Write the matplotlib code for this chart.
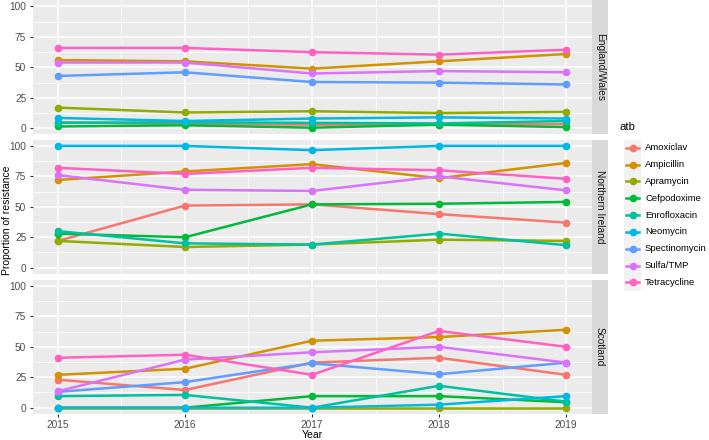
import numpy as np
import matplotlib
matplotlib.use("Agg")
import matplotlib.pyplot as plt
from matplotlib.lines import Line2D
from matplotlib.patches import Rectangle

plt.rcParams['font.family'] = ['Liberation Sans', 'DejaVu Sans']

years = [2015, 2016, 2017, 2018, 2019]
atb = ['Amoxiclav', 'Ampicillin', 'Apramycin', 'Cefpodoxime', 'Enrofloxacin',
       'Neomycin', 'Spectinomycin', 'Sulfa/TMP', 'Tetracycline']
colors = ['#F8766D', '#D39200', '#93AA00', '#00BA38', '#00C19F',
          '#00B9E3', '#619CFF', '#DB72FB', '#FF61C3']
regions = ['England/Wales', 'Northern Ireland', 'Scotland']

# one row per antibiotic, same order as atb
england_wales = [
    [5, 3.5, 3, 3, 3.5],
    [56, 55, 49, 55, 61],
    [17, 13, 14, 12.5, 13.5],
    [1.5, 2.5, 0.5, 3, 1],
    [4.5, 5, 4.5, 4, 6],
    [8.5, 6, 8, 9, 8],
    [43, 46, 38, 37.5, 36],
    [54, 54, 45, 47, 46],
    [66, 66, 62.5, 60.5, 64.5],
]
northern_ireland = [
    [22, 51, 52, 44, 37],
    [72, 79, 85, 73.5, 86],
    [22, 17, 19, 23, 22],
    [28, 25, 52, 52.5, 54],
    [30, 20, 19, 28, 18.5],
    [100, 100, 96.5, 100, 100],
    [np.nan, np.nan, np.nan, np.nan, np.nan],
    [76, 64, 63, 75, 63.5],
    [82, 77, 82, 80, 73],
]
scotland = [
    [23, 14.5, 37, 41, 27],
    [27, 32, 55, 58, 64],
    [0, 0, 0, 0, 0],
    [0, 0, 9.5, 9.5, 4.5],
    [9.5, 10.5, 0, 18, 5],
    [0, 0, 0, 2.5, 9.5],
    [13, 21, 36.5, 27.5, 37],
    [13.5, 39.5, 45.5, 50, 37],
    [41, 43.5, 27, 63, 50],
]
panel_data = [england_wales, northern_ireland, scotland]

fig = plt.figure(figsize=(7.09, 4.40), dpi=100)

panel_left = 32.5 / 709
panel_w = (591.5 - 32.5) / 709
bottoms = [305.6 / 440, 166.2 / 440, 26.2 / 440]
panel_h = 134.0 / 440
strip_w = 16.5 / 709

for k in range(3):
    ax = fig.add_axes([panel_left, bottoms[k], panel_w, panel_h])
    ax.set_facecolor('#EBEBEB')
    for s in ax.spines.values():
        s.set_visible(False)
    ax.set_xlim(2014.8, 2019.2)
    ax.set_ylim(-5, 105)
    ax.set_yticks([0, 25, 50, 75, 100])
    ax.set_yticks([12.5, 37.5, 62.5, 87.5], minor=True)
    ax.set_xticks(years)
    ax.set_xticks([2015.5, 2016.5, 2017.5, 2018.5], minor=True)
    ax.grid(which='major', color='white', lw=1.1)
    ax.grid(which='minor', color='white', lw=0.55)
    ax.set_axisbelow(True)
    ax.tick_params(which='major', length=2.5, width=0.8, color='#333333',
                   labelcolor='#4D4D4D', labelsize=7.3, pad=2)
    ax.tick_params(which='minor', length=0)
    if k < 2:
        ax.tick_params(axis='x', which='major', labelbottom=False, length=0)

    for i in range(len(atb)):
        ax.plot(years, panel_data[k][i], color=colors[i], lw=1.8,
                marker='o', markersize=4.5, solid_capstyle='butt')

    # facet strip on the right
    sax = fig.add_axes([panel_left + panel_w, bottoms[k], strip_w, panel_h])
    sax.set_facecolor('#D9D9D9')
    sax.set_xticks([])
    sax.set_yticks([])
    for s in sax.spines.values():
        s.set_visible(False)
    sax.text(0.5, 0.5, regions[k], rotation=-90, ha='center', va='center',
             fontsize=7.3, color='#1A1A1A', transform=sax.transAxes)

fig.text(7 / 709, 0.5, 'Proportion of resistance', rotation=90,
         ha='center', va='center', fontsize=7.5, color='black')
fig.text((panel_left + panel_w / 2), 5 / 440, 'Year', ha='center',
         va='center', fontsize=7.5, color='black')

# legend
fig.text(620 / 709, 1 - 127 / 440, 'atb', ha='left', va='center',
         fontsize=8.2, color='black')
key_x0 = 624 / 709
key_w = 17 / 709
row_h = 16.8
top_y = 139.5
fig.patches.append(Rectangle((key_x0, 1 - (top_y + 9 * row_h) / 440), key_w,
                             9 * row_h / 440, transform=fig.transFigure,
                             facecolor='#F2F2F2', edgecolor='none'))
for i in range(len(atb)):
    yc = 1 - (top_y + row_h * (i + 0.5)) / 440
    fig.add_artist(Line2D([key_x0 + 2 / 709, key_x0 + key_w - 2 / 709],
                          [yc, yc], transform=fig.transFigure,
                          color=colors[i], lw=1.8))
    fig.add_artist(Line2D([key_x0 + key_w / 2], [yc], transform=fig.transFigure,
                          color=colors[i], marker='o', markersize=4.5))
    fig.text(645 / 709, yc, atb[i], ha='left', va='center', fontsize=6.8,
             color='black')

fig.savefig('out.png', dpi=100)
